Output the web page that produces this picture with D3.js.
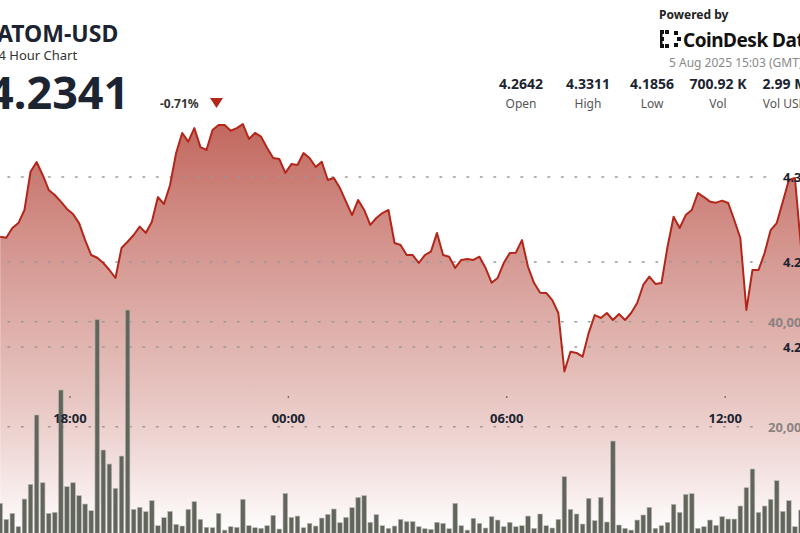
<!DOCTYPE html>
<html><head><meta charset="utf-8">
<script src="https://cdn.jsdelivr.net/npm/d3@7"></script>
<style>body{margin:0;background:#fff;overflow:hidden}svg{display:block;font-family:"Noto Sans",sans-serif}</style>
</head><body><svg id="c" width="800" height="533"></svg>
<script>
// 10-minute samples starting 4 Aug 16:05 GMT
const startTime = new Date(Date.UTC(2025, 7, 4, 16, 5));
const prices = [4.2649,4.2643,4.2700,4.2729,4.2806,4.3031,4.3088,4.3012,4.2924,4.2894,4.2855,4.2812,4.2782,4.2729,4.2629,4.2541,4.2525,4.2494,4.2453,4.2406,
4.2582,4.2619,4.2659,4.2708,4.2671,4.2737,4.2882,4.2841,4.2953,4.3141,4.3259,4.3208,4.3288,4.3176,4.3159,4.3276,4.3306,4.3306,4.3272,4.3288,
4.3311,4.3224,4.3259,4.3237,4.3171,4.3112,4.3106,4.3024,4.3076,4.3071,4.3141,4.3112,4.3059,4.3090,4.2982,4.2994,4.2935,4.2855,4.2776,4.2865,
4.2806,4.2718,4.2759,4.2788,4.2806,4.2612,4.2600,4.2541,4.2541,4.2494,4.2541,4.2561,4.2671,4.2541,4.2531,4.2465,4.2512,4.2518,4.2512,4.2531,
4.2465,4.2378,4.2406,4.2494,4.2553,4.2555,4.2629,4.2472,4.2376,4.2319,4.2318,4.2276,4.2200,4.1856,4.1972,4.1965,4.1943,4.2082,4.2188,4.2171,
4.2200,4.2159,4.2194,4.2159,4.2200,4.2259,4.2365,4.2414,4.2371,4.2376,4.2590,4.2766,4.2700,4.2776,4.2806,4.2906,4.2882,4.2855,4.2849,4.2861,
4.2847,4.2747,4.2641,4.2218,4.2453,4.2453,4.2553,4.2688,4.2729,4.2855,4.2982,4.2994,4.2590];
const volumes = [5400,2350,3490,950,6220,9020,22230,9330,3490,3680,26990,8570,9330,6860,5270,4000,40450,15560,12890,8260,
14410,42230,4250,4640,3810,5910,1140,2670,3870,1400,1080,4250,5720,2350,830,760,3490,300,950,830,
6160,1140,760,640,1140,3110,510,7300,2730,2980,760,1590,1080,2600,3300,4320,1710,2730,4570,6540,
6860,1780,3240,1140,640,1080,2350,1910,1910,950,570,440,1780,1590,570,5400,1140,300,2540,1590,
700,2860,2220,950,1780,950,1140,2980,640,3370,1140,700,2350,10480,4250,3370,1460,6350,2100,6540,
1840,17270,1270,640,300,2220,3180,4640,640,1140,1780,5210,3680,7110,7240,640,950,2220,1210,2860,
2410,2410,4890,8380,11940,3680,4890,6160,9720,3870,5910,950,4130,16190];
const priceTicks = [4.20, 4.25, 4.30];
const volTicks = [20000, 40000];
const timeTicks = [new Date(Date.UTC(2025,7,4,18)), new Date(Date.UTC(2025,7,5,0)), new Date(Date.UTC(2025,7,5,6)), new Date(Date.UTC(2025,7,5,12))];
const stats = [["4.2642","Open"],["4.3311","High"],["4.1856","Low"],["700.92 K","Vol"],["2.99 M","Vol USD"]];

const svg = d3.select("#c");
const t = i => new Date(startTime.getTime() + i * 600000);
const x = d3.scaleTime().domain([startTime, t(132)]).range([0.2, 801]);
const y = d3.scaleLinear().domain([4.20, 4.30]).range([347, 177]);
const yv = d3.scaleLinear().domain([0, 40000]).range([531.7, 321.7]);

const defs = svg.append("defs");
const g = defs.append("linearGradient").attr("id","fill").attr("gradientUnits","userSpaceOnUse")
  .attr("x1",0).attr("y1",115).attr("x2",0).attr("y2",533);
g.append("stop").attr("offset",0).attr("stop-color","#bd5c52").attr("stop-opacity",0.95);
g.append("stop").attr("offset",0.55).attr("stop-color","#d9a29c").attr("stop-opacity",0.8);
g.append("stop").attr("offset",1).attr("stop-color","#ffffff").attr("stop-opacity",1);

svg.append("path").datum(prices)
  .attr("d", d3.area().x((d,i)=>x(t(i))).y0(533).y1(d=>y(d)))
  .attr("fill","url(#fill)");

// dotted grid
const grid = svg.append("g").attr("stroke","#999").attr("stroke-width",1.6)
  .attr("stroke-dasharray","1.6 11.9").attr("stroke-linecap","round");
priceTicks.forEach(v => grid.append("line").attr("x1",8).attr("x2",775).attr("y1",y(v)).attr("y2",y(v)));
volTicks.forEach(v => grid.append("line").attr("x1",8).attr("x2",760).attr("y1",yv(v)).attr("y2",yv(v)));

// volume bars
svg.append("g").selectAll("rect").data(volumes).join("rect")
  .attr("x",(d,i)=>x(t(i))-2.3).attr("width",4.6)
  .attr("y",d=>yv(d)).attr("height",d=>yv(0)-yv(d)+2)
  .attr("fill","#61655b").attr("stroke","#b9bab4").attr("stroke-width",0.6);

svg.append("path").datum(prices)
  .attr("d", d3.line().x((d,i)=>x(t(i))).y(d=>y(d)))
  .attr("fill","none").attr("stroke","#b3261a").attr("stroke-width",2).attr("stroke-linejoin","round");

// axes labels
svg.append("g").selectAll("text").data(priceTicks).join("text")
  .attr("x",783).attr("y",d=>y(d)+5).attr("font-size",13).attr("font-weight",700).attr("fill","#1c2431")
  .text(d=>d.toFixed(2));
svg.append("g").selectAll("text").data(volTicks).join("text")
  .attr("x",768).attr("y",d=>yv(d)+5).attr("font-size",13).attr("font-weight",700).attr("fill","#8a8280")
  .text(d=>d3.format(",")(d));
const xt = svg.append("g");
xt.selectAll("circle").data(timeTicks).join("circle").attr("cx",d=>x(d)).attr("cy",397).attr("r",0.8).attr("fill","#333");
xt.selectAll("text").data(timeTicks).join("text").attr("x",d=>x(d)).attr("y",423).attr("text-anchor","middle")
  .attr("font-size",13).attr("font-weight",700).attr("fill","#1c2431").text(d3.utcFormat("%H:%M"));

// header
svg.append("text").attr("x",-3).attr("y",42).attr("font-size",23).attr("font-weight",700).attr("fill","#1c2431").text("ATOM-USD");
svg.append("text").attr("x",-9).attr("y",60).attr("font-size",13).attr("fill","#333").text("24 Hour Chart");
svg.append("text").attr("x",-12).attr("y",109).attr("font-size",45).attr("font-weight",700).attr("fill","#1c2431").text("4.2341");
svg.append("text").attr("x",160).attr("y",108).attr("font-size",12).attr("font-weight",700).attr("fill","#333").text("-0.71%");
svg.append("path").attr("d","M210,98 L223,98 L216.5,108 Z").attr("fill","#b3261a");

const st = svg.append("g").selectAll("g").data(stats).join("g").attr("transform",(d,i)=>`translate(${[521,588,652,718,785][i]},0)`);
st.append("text").attr("y",89).attr("text-anchor","middle").attr("font-size",14).attr("font-weight",700).attr("fill","#1c2431").text(d=>d[0]);
st.append("text").attr("y",108).attr("text-anchor","middle").attr("font-size",12).attr("fill","#555").text(d=>d[1]);

svg.append("text").attr("x",659).attr("y",19).attr("font-size",12).attr("font-weight",700).attr("fill","#222").text("Powered by");
const logo = svg.append("g").attr("fill","#111");
[[660,30],[660,37],[660,44],[665,30],[665,44],[674,31],[674,43],[677,37]].forEach(p=>logo.append("rect").attr("x",p[0]).attr("y",p[1]).attr("width",4).attr("height",4));
logo.append("rect").attr("x",660).attr("y",30).attr("width",2.5).attr("height",18);
svg.append("text").attr("x",683).attr("y",47).attr("font-size",19).attr("font-weight",700).attr("fill","#111").attr("letter-spacing",-0.5).text("CoinDesk Data");
svg.append("text").attr("x",669).attr("y",67).attr("font-size",12).attr("fill","#888").text("5 Aug 2025 15:03 (GMT)");
</script></body></html>
